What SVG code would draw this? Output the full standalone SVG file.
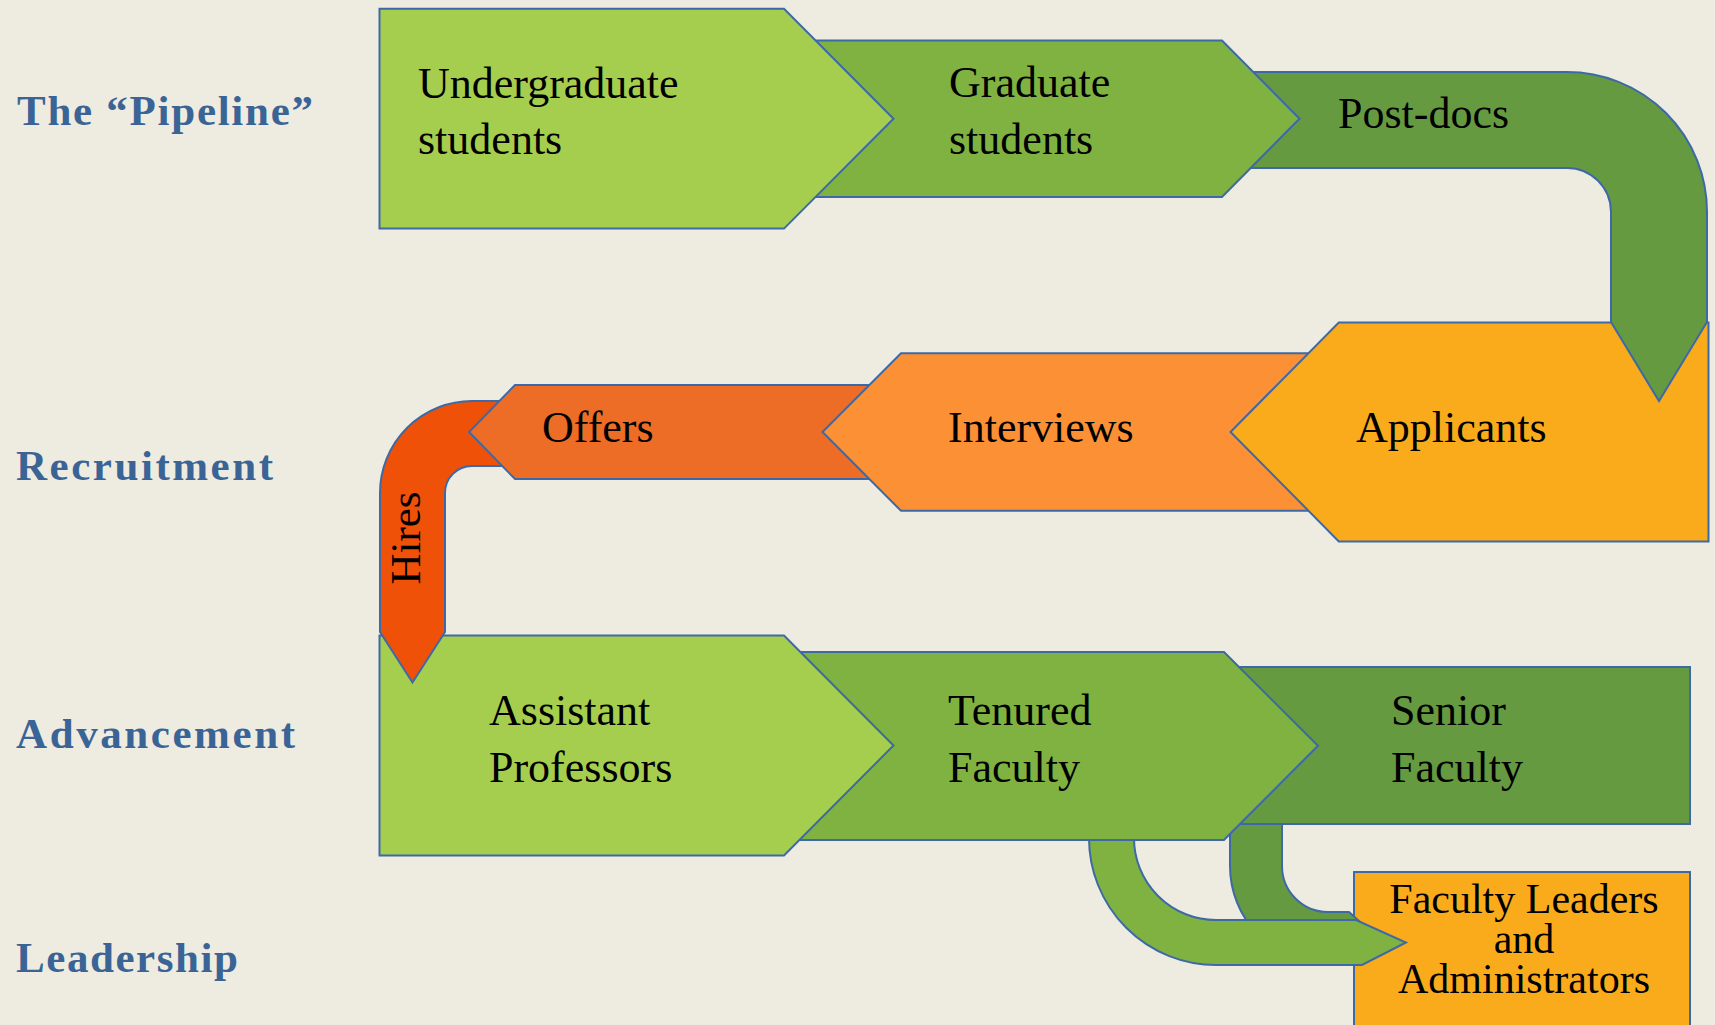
<svg xmlns="http://www.w3.org/2000/svg" width="1715" height="1025" viewBox="0 0 1715 1025">
<style>
  .bg { fill: #EEECE1; }
  .shape { stroke: #3D69A6; stroke-width: 2; stroke-linejoin: miter; }
  .g1 { fill: #A6CE4E; }
  .g2 { fill: #7FB241; }
  .g3 { fill: #659A41; }
  .o1 { fill: #FAAB1C; }
  .o2 { fill: #FC9035; }
  .o3 { fill: #ED6C26; }
  .o4 { fill: #F05108; }
  .t { font-family: "Liberation Serif", "Times New Roman", serif; font-size: 44px; fill: #000; }
  .tc { font-family: "Liberation Serif", "Times New Roman", serif; font-size: 42px; fill: #000; text-anchor: middle; }
  .lbl { font-family: "Liberation Serif", "Times New Roman", serif; font-size: 43px; font-weight: bold; fill: #3B6496; }
</style>
<rect class="bg" x="0" y="0" width="1715" height="1025"/>

<g id="labels">
  <text class="lbl" x="17" y="125" textLength="296" lengthAdjust="spacing">The “Pipeline”</text>
  <text class="lbl" x="16" y="480" textLength="257" lengthAdjust="spacing">Recruitment</text>
  <text class="lbl" x="16" y="748" textLength="279" lengthAdjust="spacing">Advancement</text>
  <text class="lbl" x="16" y="972" textLength="222" lengthAdjust="spacing">Leadership</text>
</g>

<g id="leaders">
  <rect class="shape o1" x="1354" y="872" width="336" height="165"/>
  <text class="tc" x="1524" y="913">Faculty Leaders</text>
  <text class="tc" x="1524" y="953">and</text>
  <text class="tc" x="1524" y="993">Administrators</text>
</g>

<g id="connectors">
  <path class="shape g3" d="M1230,815 L1282,815 L1282,866 A46,46 0 0 0 1328,912 L1349,912 L1378,938 L1349,964 L1328,964 A98,98 0 0 1 1230,866 Z"/>
  <path class="shape g2" d="M1089,830 L1089,838 A127,127 0 0 0 1216,965 L1362,965 L1406,942.5 L1356,920 L1216,920 A82,82 0 0 1 1134,838 L1134,830 Z"/>
</g>

<g id="senior">
  <rect class="shape g3" x="1200" y="667" width="490" height="157"/>
  <text class="t" x="1391" y="725">Senior</text>
  <text class="t" x="1391" y="782">Faculty</text>
</g>

<g id="tenured">
  <polygon class="shape g2" points="760,652 1224,652 1318,745.7 1224,840 760,840"/>
  <text class="t" x="948" y="725">Tenured</text>
  <text class="t" x="948" y="782">Faculty</text>
</g>

<g id="assistant">
  <polygon class="shape g1" points="379.5,635.5 784,635.5 893.5,745.5 784,855.5 379.5,855.5"/>
  <text class="t" x="489" y="725">Assistant</text>
  <text class="t" x="489" y="782">Professors</text>
</g>

<g id="hires">
  <path class="shape o4" d="M520,401 L472,401 A92,92 0 0 0 380,493 L380,632 L412.5,682.5 L445,632 L445,493 A27,27 0 0 1 472,466 L520,466 Z"/>
  <text class="tc" style="font-size:43px" transform="translate(420,538) rotate(-90)">Hires</text>
</g>

<g id="offers">
  <polygon class="shape o3" points="880,385 515,385 469,432 515,479 880,479"/>
  <text class="t" x="542" y="442">Offers</text>
</g>

<g id="interviews">
  <polygon class="shape o2" points="1320,353.3 901,353.3 822.5,432 901,510.8 1320,510.8"/>
  <text class="t" x="948" y="442">Interviews</text>
</g>

<g id="applicants">
  <polygon class="shape o1" points="1708.5,322.5 1338.8,322.5 1230.5,432 1338.8,541.4 1708.5,541.4"/>
  <text class="t" x="1356" y="442">Applicants</text>
</g>

<g id="postdocs">
  <path class="shape g3" d="M1200,72 L1567,72 A140,140 0 0 1 1707,212 L1707,322 L1659,401 L1611,322 L1611,212 A44,44 0 0 0 1567,168 L1200,168 Z"/>
  <text class="t" x="1338" y="128">Post-docs</text>
</g>

<g id="graduate">
  <polygon class="shape g2" points="790,40.5 1222,40.5 1299.5,118.7 1222,197 790,197"/>
  <text class="t" x="949" y="97">Graduate</text>
  <text class="t" x="949" y="154">students</text>
</g>

<g id="undergraduate">
  <polygon class="shape g1" points="379.5,8.75 784,8.75 893.5,118.7 784,228.6 379.5,228.6"/>
  <text class="t" x="418" y="97.5">Undergraduate</text>
  <text class="t" x="418" y="154">students</text>
</g>
</svg>
